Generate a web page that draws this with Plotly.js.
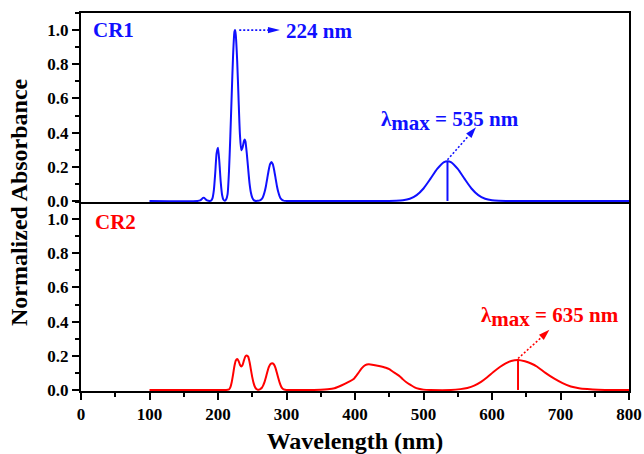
<!DOCTYPE html>
<html>
<head>
<meta charset="utf-8">
<script src="https://cdn.plot.ly/plotly-3.0.1.min.js"></script>
<style>html,body{margin:0;padding:0;background:#fff;}#chart{width:644px;height:454px;}</style>
</head>
<body>
<div id="chart"></div>
<script>
// ---- Data ----
const wavelengthCR1 = [100,170,174,176,178,180,182,184,186,188,190,192,194,196,198,200,202,204,206,208,210,212,214,216,218,220,222,224,225,226,228,230,232,234,236,238,239,240,242,244,246,248,250,252,254,256,258,260,262,264,266,268,270,272,274,276,278,280,282,284,286,288,290,292,294,296,298,300,450,460,470,480,490,500,510,520,530,535,540,550,560,570,580,590,600,610,620,800];
const absorbanceCR1 = [0,0,0.003,0.01,0.018,0.018,0.01,0.003,0.001,0,0.003,0.017,0.065,0.166,0.28,0.311,0.227,0.11,0.035,0.007,0.001,0.01,0.04,0.17,0.38,0.62,0.85,0.99,1.0,0.97,0.82,0.6,0.39,0.297,0.315,0.352,0.36,0.35,0.28,0.19,0.105,0.05,0.02,0.006,0.001,0,0.001,0.002,0.005,0.012,0.027,0.052,0.088,0.134,0.18,0.215,0.228,0.215,0.18,0.134,0.088,0.052,0.027,0.012,0.005,0.002,0.0006,0,0,0.001,0.004,0.013,0.034,0.073,0.129,0.188,0.228,0.233,0.228,0.188,0.129,0.073,0.034,0.013,0.004,0.001,0,0];

const wavelengthCR2 = [100,212,214,216,218,220,222,224,226,228,230,232,234,236,238,240,242,244,246,248,250,252,254,256,258,260,262,264,266,268,270,272,274,276,278,280,282,284,286,288,290,292,294,296,298,300,340,350,360,370,380,390,398,405,410,415,420,425,435,445,450,455,460,466,470,475,481,487,493,500,510,540,554,564,574,584,593,602,612,620,628,638,648,657,666,678,691,703,715,727,739,755,770,800];
const absorbanceCR2 = [0,0,0.001,0.003,0.015,0.045,0.09,0.14,0.172,0.181,0.17,0.148,0.137,0.148,0.175,0.196,0.202,0.195,0.165,0.12,0.075,0.04,0.017,0.005,0.001,0.002,0.006,0.013,0.027,0.047,0.075,0.105,0.132,0.149,0.155,0.155,0.147,0.128,0.1,0.07,0.043,0.022,0.009,0.003,0.001,0,0,0.001,0.004,0.01,0.026,0.046,0.064,0.1,0.128,0.145,0.15,0.148,0.14,0.13,0.122,0.108,0.095,0.078,0.062,0.045,0.03,0.015,0.007,0.002,0,0,0.005,0.012,0.025,0.047,0.074,0.105,0.136,0.156,0.17,0.176,0.168,0.155,0.136,0.1,0.066,0.04,0.02,0.01,0.005,0.001,0,0];

const seriesNames = ['CR1', 'CR2'];
const peakLabelsCR1 = [224, 535];   // nm, as labelled
const peakLabelCR2 = 635;           // nm, as labelled
const dropLineCR1 = 535;            // nm position of drop line
const dropLineCR2 = 638;            // nm position of drop line
const xTickVals = [0,100,200,300,400,500,600,700,800];

function interp(xs, ys, x) {
  for (let i = 0; i < xs.length - 1; i++) {
    if (x >= xs[i] && x <= xs[i+1]) {
      const t = (x - xs[i]) / (xs[i+1] - xs[i]);
      return ys[i] + t * (ys[i+1] - ys[i]);
    }
  }
  return 0;
}

const BLUE = '#1010ff';
const RED = '#ff0000';
const FONT = 'Liberation Serif';

const traces = [
  {x: wavelengthCR1, y: absorbanceCR1, xaxis: 'x2', yaxis: 'y2', type: 'scatter', mode: 'lines',
   name: seriesNames[0], line: {color: BLUE, width: 2, shape: 'spline', smoothing: 0.6}},
  {x: wavelengthCR2, y: absorbanceCR2, xaxis: 'x', yaxis: 'y', type: 'scatter', mode: 'lines',
   name: seriesNames[1], line: {color: RED, width: 2, shape: 'spline', smoothing: 0.6}}
];

const tickFont = {family: FONT, size: 17, color: '#000', weight: 'bold'};
const yCommon = {
  range: [-0.006, 1.1], dtick: 0.2, tick0: 0, tickformat: '.1f',
  ticks: 'outside', ticklen: 7, tickwidth: 2, tickcolor: '#000',
  minor: {dtick: 0.1, ticks: 'outside', ticklen: 4, tickwidth: 1.5, tickcolor: '#000'},
  showline: true, linewidth: 2, linecolor: '#000', mirror: true,
  showgrid: false, zeroline: false, tickfont: tickFont, layer: 'below traces'
};

const top224 = interp(wavelengthCR1, absorbanceCR1, 225);
const top535 = interp(wavelengthCR1, absorbanceCR1, dropLineCR1);
const top638 = interp(wavelengthCR2, absorbanceCR2, dropLineCR2);

const dotted = {dash: '2px,2px', width: 1.6};

function head(xref, yref, x, y, path, color) {
  return {type: 'path', xref: xref, yref: yref, xsizemode: 'pixel', ysizemode: 'pixel',
          xanchor: x, yanchor: y, path: path, fillcolor: color, line: {width: 0}};
}

const shapes = [
  {type: 'line', xref: 'x2', yref: 'y2', x0: dropLineCR1, x1: dropLineCR1, y0: 0, y1: top535, line: {color: BLUE, width: 2}},
  {type: 'line', xref: 'x', yref: 'y', x0: dropLineCR2, x1: dropLineCR2, y0: 0, y1: top638, line: {color: RED, width: 2}},
  {type: 'line', xref: 'x2', yref: 'y2', x0: 231, x1: 274, y0: top224, y1: top224, line: Object.assign({color: BLUE}, dotted)},
  {type: 'line', xref: 'x2', yref: 'y2', x0: dropLineCR1, x1: 566.1, y0: top535 + 0.008, y1: 0.382, line: Object.assign({color: BLUE}, dotted)},
  {type: 'line', xref: 'x', yref: 'y', x0: dropLineCR2, x1: 672.1, y0: top638 + 0.008, y1: 0.308, line: Object.assign({color: RED}, dotted)},
  head('x2', 'y2', 290.4, top224, 'M0,0 L-12,3.2 L-12,-3.2 Z', BLUE),
  head('x2', 'y2', 576.6, 0.431, 'M0,0 L-9.8,-6.1 L-4.5,-10.6 Z', BLUE),
  head('x', 'y', 683.8, 0.352, 'M0,0 L-10.4,-5.0 L-5.6,-10.1 Z', RED)
];

const labelFont = (c) => ({family: FONT, size: 21, color: c, weight: 'bold'});

const annotations = [
  {xref: 'x2', yref: 'y2', x: 48, y: 1.0, text: seriesNames[0], showarrow: false, font: labelFont(BLUE), xanchor: 'center', yanchor: 'middle'},
  {xref: 'x', yref: 'y', x: 51, y: 0.985, text: seriesNames[1], showarrow: false, font: labelFont(RED), xanchor: 'center', yanchor: 'middle'},
  {xref: 'x2', yref: 'y2', x: 296, y: 0.993, text: peakLabelsCR1[0] + ' nm', showarrow: false, font: labelFont(BLUE), xanchor: 'left', yanchor: 'middle'},
  {xref: 'x2', yref: 'y2', x: 539, y: 0.47, text: 'λ<sub><span style="font-size:21px">max</span></sub> = ' + peakLabelsCR1[1] + ' nm', showarrow: false, font: labelFont(BLUE), xanchor: 'center', yanchor: 'middle'},
  {xref: 'x', yref: 'y', x: 685, y: 0.425, text: 'λ<sub><span style="font-size:21px">max</span></sub> = ' + peakLabelCR2 + ' nm', showarrow: false, font: labelFont(RED), xanchor: 'center', yanchor: 'middle'},
  {xref: 'paper', yref: 'paper', x: -0.113, y: 0.5, text: 'Normalized Absorbance', textangle: -90, showarrow: false,
   font: {family: FONT, size: 24, color: '#000', weight: 'bold'}, xanchor: 'center', yanchor: 'middle'}
];

const layout = {
  width: 644, height: 454,
  margin: {l: 81, r: 15, t: 13, b: 63},
  paper_bgcolor: '#fff', plot_bgcolor: '#fff',
  showlegend: false,
  font: {family: FONT, color: '#000'},
  xaxis: {
    domain: [0, 1], anchor: 'y', range: [0, 800], tickvals: xTickVals,
    ticks: 'outside', ticklen: 7, tickwidth: 2, tickcolor: '#000',
    minor: {dtick: 50, ticks: 'outside', ticklen: 4, tickwidth: 1.5, tickcolor: '#000'},
    showline: true, linewidth: 2, linecolor: '#000', mirror: false,
    showgrid: false, zeroline: false, tickfont: tickFont, layer: 'below traces',
    title: {text: 'Wavelength (nm)', font: {family: FONT, size: 24, color: '#000', weight: 'bold'}, standoff: 15}
  },
  xaxis2: {
    domain: [0, 1], anchor: 'y2', matches: 'x', range: [0, 800],
    showticklabels: false, ticks: '',
    showline: true, linewidth: 2, linecolor: '#000', mirror: true,
    showgrid: false, zeroline: false, layer: 'below traces'
  },
  yaxis: Object.assign({domain: [0, 0.5], anchor: 'x'}, yCommon),
  yaxis2: Object.assign({domain: [0.5, 1], anchor: 'x2'}, yCommon),
  shapes: shapes,
  annotations: annotations
};

Plotly.newPlot('chart', traces, layout, {displayModeBar: false});
</script>
</body>
</html>
